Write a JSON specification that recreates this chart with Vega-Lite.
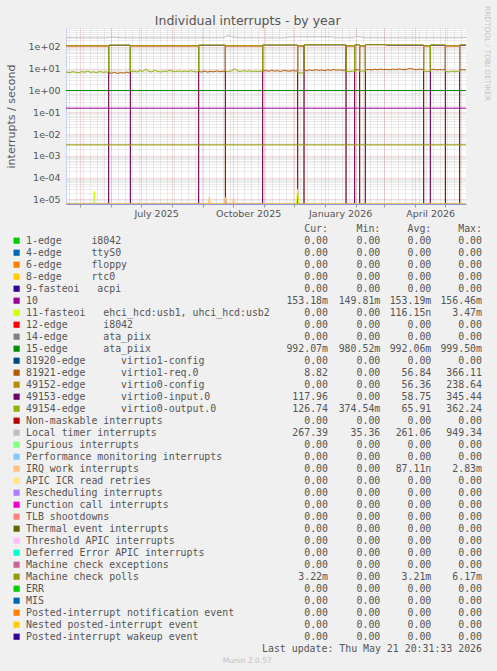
{
"$schema":"https://vega.github.io/schema/vega-lite/v6.json",
"background":"#f0f0f0",
"padding":{"left":5,"right":6,"top":5,"bottom":6},
"title":{"text":"Individual interrupts - by year","anchor":"middle","frame":"bounds","font":"DejaVu Sans","fontSize":12.5,"fontWeight":"normal","color":"#555555","offset":-22},
"config":{"view":{"stroke":null},"font":"DejaVu Sans"},
"bounds":"flush",
"spacing":24.7,
"resolve":{"scale":{"x":"independent","y":"independent","color":"independent"}},
"datasets":{
"series":[
{"s":"10","t":"2025-04-16T20:00","v":0.153},{"s":"10","t":"2026-05-21T21:00","v":0.153},
{"s":"15-edge","t":"2025-04-16T20:00","v":0.992},{"s":"15-edge","t":"2026-05-21T21:00","v":0.992},
{"s":"81921-edge","t":"2025-04-16T20:00","v":108},{"s":"81921-edge","t":"2025-05-29T11:00","v":108},
{"s":"81921-edge","t":"2025-05-29T14:00","v":6.5},{"s":"81921-edge","t":"2025-06-01T12:00","v":6.1},{"s":"81921-edge","t":"2025-06-04T12:00","v":6.8},{"s":"81921-edge","t":"2025-06-07T12:00","v":6.0},{"s":"81921-edge","t":"2025-06-10T12:00","v":6.6},{"s":"81921-edge","t":"2025-06-13T12:00","v":6.2},{"s":"81921-edge","t":"2025-06-16T12:00","v":6.9},{"s":"81921-edge","t":"2025-06-19T12:00","v":6.3},{"s":"81921-edge","t":"2025-06-20T04:00","v":6.5},
{"s":"81921-edge","t":"2025-06-20T07:00","v":108},{"s":"81921-edge","t":"2025-08-27T11:00","v":108},
{"s":"81921-edge","t":"2025-08-27T14:00","v":7.4},{"s":"81921-edge","t":"2025-08-30T12:00","v":7.0},{"s":"81921-edge","t":"2025-09-02T12:00","v":7.8},{"s":"81921-edge","t":"2025-09-05T12:00","v":6.9},{"s":"81921-edge","t":"2025-09-08T12:00","v":7.5},{"s":"81921-edge","t":"2025-09-11T12:00","v":7.1},{"s":"81921-edge","t":"2025-09-14T12:00","v":7.9},{"s":"81921-edge","t":"2025-09-17T12:00","v":7.2},{"s":"81921-edge","t":"2025-09-20T12:00","v":7.6},{"s":"81921-edge","t":"2025-09-23T04:00","v":7.3},
{"s":"81921-edge","t":"2025-09-23T07:00","v":108},{"s":"81921-edge","t":"2025-10-30T11:00","v":108},
{"s":"81921-edge","t":"2025-10-30T14:00","v":7.8},{"s":"81921-edge","t":"2025-11-02T12:00","v":8.2},{"s":"81921-edge","t":"2025-11-05T12:00","v":7.5},{"s":"81921-edge","t":"2025-11-08T12:00","v":8.4},{"s":"81921-edge","t":"2025-11-11T12:00","v":7.7},{"s":"81921-edge","t":"2025-11-14T12:00","v":8.0},{"s":"81921-edge","t":"2025-11-17T12:00","v":7.4},{"s":"81921-edge","t":"2025-11-20T12:00","v":8.3},{"s":"81921-edge","t":"2025-11-23T12:00","v":7.9},{"s":"81921-edge","t":"2025-11-26T12:00","v":7.6},{"s":"81921-edge","t":"2025-11-29T12:00","v":8.2},{"s":"81921-edge","t":"2025-12-02T12:00","v":7.8},{"s":"81921-edge","t":"2025-12-04T11:00","v":8.0},
{"s":"81921-edge","t":"2025-12-04T14:00","v":108},{"s":"81921-edge","t":"2025-12-10T20:00","v":108},
{"s":"81921-edge","t":"2025-12-10T23:00","v":8.4},{"s":"81921-edge","t":"2025-12-13T12:00","v":8.0},{"s":"81921-edge","t":"2025-12-16T12:00","v":8.8},{"s":"81921-edge","t":"2025-12-19T12:00","v":8.2},{"s":"81921-edge","t":"2025-12-22T12:00","v":9.0},{"s":"81921-edge","t":"2025-12-25T12:00","v":8.3},{"s":"81921-edge","t":"2025-12-28T12:00","v":8.7},{"s":"81921-edge","t":"2025-12-31T12:00","v":8.1},{"s":"81921-edge","t":"2026-01-03T12:00","v":8.9},{"s":"81921-edge","t":"2026-01-06T12:00","v":8.4},{"s":"81921-edge","t":"2026-01-09T12:00","v":9.1},{"s":"81921-edge","t":"2026-01-12T12:00","v":8.5},{"s":"81921-edge","t":"2026-01-15T12:00","v":8.8},{"s":"81921-edge","t":"2026-01-18T12:00","v":8.3},{"s":"81921-edge","t":"2026-01-21T20:00","v":8.6},
{"s":"81921-edge","t":"2026-01-21T23:00","v":108},{"s":"81921-edge","t":"2026-01-30T11:00","v":108},
{"s":"81921-edge","t":"2026-01-30T14:00","v":8.5},{"s":"81921-edge","t":"2026-02-02T12:00","v":8.9},{"s":"81921-edge","t":"2026-02-04T11:00","v":8.6},
{"s":"81921-edge","t":"2026-02-04T14:00","v":108},{"s":"81921-edge","t":"2026-02-10T04:00","v":108},
{"s":"81921-edge","t":"2026-02-10T07:00","v":8.7},{"s":"81921-edge","t":"2026-02-13T12:00","v":9.2},{"s":"81921-edge","t":"2026-02-16T12:00","v":8.6},{"s":"81921-edge","t":"2026-02-19T12:00","v":9.4},{"s":"81921-edge","t":"2026-02-22T12:00","v":8.9},{"s":"81921-edge","t":"2026-02-25T12:00","v":9.6},{"s":"81921-edge","t":"2026-02-28T12:00","v":9.0},{"s":"81921-edge","t":"2026-03-03T12:00","v":9.3},{"s":"81921-edge","t":"2026-03-06T12:00","v":8.8},{"s":"81921-edge","t":"2026-03-09T12:00","v":9.5},{"s":"81921-edge","t":"2026-03-12T12:00","v":9.1},{"s":"81921-edge","t":"2026-03-15T12:00","v":9.8},{"s":"81921-edge","t":"2026-03-18T12:00","v":9.2},{"s":"81921-edge","t":"2026-03-21T12:00","v":9.0},{"s":"81921-edge","t":"2026-03-24T12:00","v":9.6},{"s":"81921-edge","t":"2026-03-27T12:00","v":10.2},{"s":"81921-edge","t":"2026-03-30T12:00","v":9.3},{"s":"81921-edge","t":"2026-04-02T12:00","v":9.0},{"s":"81921-edge","t":"2026-04-05T12:00","v":9.5},{"s":"81921-edge","t":"2026-04-09T11:00","v":9.2},
{"s":"81921-edge","t":"2026-04-09T14:00","v":108},{"s":"81921-edge","t":"2026-04-16T04:00","v":108},
{"s":"81921-edge","t":"2026-04-16T07:00","v":8.9},{"s":"81921-edge","t":"2026-04-19T12:00","v":9.4},{"s":"81921-edge","t":"2026-04-22T12:00","v":8.7},{"s":"81921-edge","t":"2026-04-25T12:00","v":9.2},{"s":"81921-edge","t":"2026-04-28T12:00","v":8.8},{"s":"81921-edge","t":"2026-05-01T04:00","v":9.1},
{"s":"81921-edge","t":"2026-05-01T07:00","v":108},{"s":"81921-edge","t":"2026-05-15T11:00","v":108},
{"s":"81921-edge","t":"2026-05-15T14:00","v":8.6},{"s":"81921-edge","t":"2026-05-18T12:00","v":9.0},{"s":"81921-edge","t":"2026-05-21T21:00","v":8.82},
{"s":"49152-edge","t":"2025-04-16T20:00","v":114},{"s":"49152-edge","t":"2025-05-29T11:00","v":114},
{"s":"49152-edge","t":"2025-05-29T14:00","v":0},{"s":"49152-edge","t":"2025-06-20T04:00","v":0},
{"s":"49152-edge","t":"2025-06-20T07:00","v":115},{"s":"49152-edge","t":"2025-08-27T11:00","v":115},
{"s":"49152-edge","t":"2025-08-27T14:00","v":0},{"s":"49152-edge","t":"2025-09-23T04:00","v":0},
{"s":"49152-edge","t":"2025-09-23T07:00","v":114},{"s":"49152-edge","t":"2025-10-30T11:00","v":114},
{"s":"49152-edge","t":"2025-10-30T14:00","v":0},{"s":"49152-edge","t":"2025-12-04T11:00","v":0},
{"s":"49152-edge","t":"2025-12-04T14:00","v":114},{"s":"49152-edge","t":"2025-12-10T20:00","v":114},
{"s":"49152-edge","t":"2025-12-10T23:00","v":0},{"s":"49152-edge","t":"2026-01-21T20:00","v":0},
{"s":"49152-edge","t":"2026-01-21T23:00","v":114},{"s":"49152-edge","t":"2026-01-30T11:00","v":114},
{"s":"49152-edge","t":"2026-01-30T14:00","v":0},{"s":"49152-edge","t":"2026-02-04T11:00","v":0},
{"s":"49152-edge","t":"2026-02-04T14:00","v":114},{"s":"49152-edge","t":"2026-02-10T04:00","v":114},
{"s":"49152-edge","t":"2026-02-10T07:00","v":0},{"s":"49152-edge","t":"2026-04-09T11:00","v":0},
{"s":"49152-edge","t":"2026-04-09T14:00","v":114},{"s":"49152-edge","t":"2026-04-16T04:00","v":114},
{"s":"49152-edge","t":"2026-04-16T07:00","v":0},{"s":"49152-edge","t":"2026-05-01T04:00","v":0},
{"s":"49152-edge","t":"2026-05-01T07:00","v":114},{"s":"49152-edge","t":"2026-05-15T11:00","v":114},
{"s":"49152-edge","t":"2026-05-15T14:00","v":0},{"s":"49152-edge","t":"2026-05-21T21:00","v":0},
{"s":"49153-edge","t":"2025-04-16T20:00","v":0},{"s":"49153-edge","t":"2025-05-29T11:00","v":0},
{"s":"49153-edge","t":"2025-05-29T14:00","v":118},{"s":"49153-edge","t":"2025-06-20T04:00","v":118},
{"s":"49153-edge","t":"2025-06-20T07:00","v":0},{"s":"49153-edge","t":"2025-08-27T11:00","v":0},
{"s":"49153-edge","t":"2025-08-27T14:00","v":118},{"s":"49153-edge","t":"2025-09-23T04:00","v":118},
{"s":"49153-edge","t":"2025-09-23T07:00","v":0},{"s":"49153-edge","t":"2025-10-30T11:00","v":0},
{"s":"49153-edge","t":"2025-10-30T14:00","v":120},{"s":"49153-edge","t":"2025-12-04T11:00","v":120},
{"s":"49153-edge","t":"2025-12-04T14:00","v":0},{"s":"49153-edge","t":"2025-12-10T20:00","v":0},
{"s":"49153-edge","t":"2025-12-10T23:00","v":122},{"s":"49153-edge","t":"2026-01-21T20:00","v":122},
{"s":"49153-edge","t":"2026-01-21T23:00","v":0},{"s":"49153-edge","t":"2026-01-30T11:00","v":0},
{"s":"49153-edge","t":"2026-01-30T14:00","v":122},{"s":"49153-edge","t":"2026-02-04T11:00","v":122},
{"s":"49153-edge","t":"2026-02-04T14:00","v":0},{"s":"49153-edge","t":"2026-02-10T04:00","v":0},
{"s":"49153-edge","t":"2026-02-10T07:00","v":126},{"s":"49153-edge","t":"2026-03-01T12:00","v":126},{"s":"49153-edge","t":"2026-03-03T12:00","v":118},{"s":"49153-edge","t":"2026-04-09T11:00","v":118},
{"s":"49153-edge","t":"2026-04-09T14:00","v":0},{"s":"49153-edge","t":"2026-04-16T04:00","v":0},
{"s":"49153-edge","t":"2026-04-16T07:00","v":118},{"s":"49153-edge","t":"2026-05-01T04:00","v":118},
{"s":"49153-edge","t":"2026-05-01T07:00","v":0},{"s":"49153-edge","t":"2026-05-15T11:00","v":0},
{"s":"49153-edge","t":"2026-05-15T14:00","v":118},{"s":"49153-edge","t":"2026-05-21T21:00","v":117.96},
{"s":"49154-edge","t":"2025-04-16T20:00","v":7.0},{"s":"49154-edge","t":"2025-04-20T12:00","v":6.6},{"s":"49154-edge","t":"2025-04-23T12:00","v":7.2},{"s":"49154-edge","t":"2025-04-26T12:00","v":6.8},{"s":"49154-edge","t":"2025-04-29T12:00","v":6.4},{"s":"49154-edge","t":"2025-05-02T12:00","v":7.3},{"s":"49154-edge","t":"2025-05-05T12:00","v":6.9},{"s":"49154-edge","t":"2025-05-08T12:00","v":7.6},{"s":"49154-edge","t":"2025-05-11T12:00","v":6.7},{"s":"49154-edge","t":"2025-05-14T12:00","v":7.1},{"s":"49154-edge","t":"2025-05-17T12:00","v":6.5},{"s":"49154-edge","t":"2025-05-20T12:00","v":7.4},{"s":"49154-edge","t":"2025-05-23T12:00","v":6.8},{"s":"49154-edge","t":"2025-05-26T12:00","v":7.0},{"s":"49154-edge","t":"2025-05-29T11:00","v":6.9},
{"s":"49154-edge","t":"2025-05-29T14:00","v":122},{"s":"49154-edge","t":"2025-06-20T04:00","v":122},
{"s":"49154-edge","t":"2025-06-20T07:00","v":7.2},{"s":"49154-edge","t":"2025-06-23T12:00","v":7.8},{"s":"49154-edge","t":"2025-06-26T12:00","v":7.0},{"s":"49154-edge","t":"2025-06-29T12:00","v":8.1},{"s":"49154-edge","t":"2025-07-02T12:00","v":7.4},{"s":"49154-edge","t":"2025-07-05T12:00","v":9.5},{"s":"49154-edge","t":"2025-07-08T12:00","v":7.6},{"s":"49154-edge","t":"2025-07-11T12:00","v":7.1},{"s":"49154-edge","t":"2025-07-14T12:00","v":8.3},{"s":"49154-edge","t":"2025-07-17T12:00","v":7.5},{"s":"49154-edge","t":"2025-07-20T12:00","v":7.0},{"s":"49154-edge","t":"2025-07-23T12:00","v":7.9},{"s":"49154-edge","t":"2025-07-26T12:00","v":7.3},{"s":"49154-edge","t":"2025-07-29T12:00","v":8.4},{"s":"49154-edge","t":"2025-08-01T12:00","v":7.6},{"s":"49154-edge","t":"2025-08-04T12:00","v":7.2},{"s":"49154-edge","t":"2025-08-07T12:00","v":7.9},{"s":"49154-edge","t":"2025-08-10T12:00","v":7.1},{"s":"49154-edge","t":"2025-08-13T12:00","v":7.7},{"s":"49154-edge","t":"2025-08-16T12:00","v":7.3},{"s":"49154-edge","t":"2025-08-19T12:00","v":8.0},{"s":"49154-edge","t":"2025-08-22T12:00","v":7.4},{"s":"49154-edge","t":"2025-08-25T12:00","v":7.0},{"s":"49154-edge","t":"2025-08-27T11:00","v":7.5},
{"s":"49154-edge","t":"2025-08-27T14:00","v":122},{"s":"49154-edge","t":"2025-09-23T04:00","v":122},
{"s":"49154-edge","t":"2025-09-23T07:00","v":7.6},{"s":"49154-edge","t":"2025-09-26T12:00","v":7.2},{"s":"49154-edge","t":"2025-09-29T12:00","v":8.0},{"s":"49154-edge","t":"2025-10-02T12:00","v":10.0},{"s":"49154-edge","t":"2025-10-05T12:00","v":7.8},{"s":"49154-edge","t":"2025-10-08T12:00","v":7.3},{"s":"49154-edge","t":"2025-10-11T12:00","v":8.1},{"s":"49154-edge","t":"2025-10-14T12:00","v":7.5},{"s":"49154-edge","t":"2025-10-17T12:00","v":7.9},{"s":"49154-edge","t":"2025-10-20T12:00","v":7.2},{"s":"49154-edge","t":"2025-10-23T12:00","v":7.7},{"s":"49154-edge","t":"2025-10-26T12:00","v":7.4},{"s":"49154-edge","t":"2025-10-30T11:00","v":7.8},
{"s":"49154-edge","t":"2025-10-30T14:00","v":122},{"s":"49154-edge","t":"2025-12-04T11:00","v":122},
{"s":"49154-edge","t":"2025-12-04T14:00","v":6.6},{"s":"49154-edge","t":"2025-12-07T12:00","v":6.2},{"s":"49154-edge","t":"2025-12-10T20:00","v":6.5},
{"s":"49154-edge","t":"2025-12-10T23:00","v":124},{"s":"49154-edge","t":"2026-01-21T20:00","v":124},
{"s":"49154-edge","t":"2026-01-21T23:00","v":7.6},{"s":"49154-edge","t":"2026-01-25T12:00","v":7.2},{"s":"49154-edge","t":"2026-01-28T12:00","v":7.8},{"s":"49154-edge","t":"2026-01-30T11:00","v":7.4},
{"s":"49154-edge","t":"2026-01-30T14:00","v":124},{"s":"49154-edge","t":"2026-02-04T11:00","v":124},
{"s":"49154-edge","t":"2026-02-04T14:00","v":7.4},{"s":"49154-edge","t":"2026-02-07T12:00","v":7.9},{"s":"49154-edge","t":"2026-02-10T04:00","v":7.5},
{"s":"49154-edge","t":"2026-02-10T07:00","v":124},{"s":"49154-edge","t":"2026-04-09T11:00","v":124},
{"s":"49154-edge","t":"2026-04-09T14:00","v":7.8},{"s":"49154-edge","t":"2026-04-12T12:00","v":7.3},{"s":"49154-edge","t":"2026-04-16T04:00","v":7.6},
{"s":"49154-edge","t":"2026-04-16T07:00","v":125},{"s":"49154-edge","t":"2026-05-01T04:00","v":125},
{"s":"49154-edge","t":"2026-05-01T07:00","v":7.5},{"s":"49154-edge","t":"2026-05-04T12:00","v":7.0},{"s":"49154-edge","t":"2026-05-07T12:00","v":7.8},{"s":"49154-edge","t":"2026-05-10T12:00","v":7.2},{"s":"49154-edge","t":"2026-05-13T12:00","v":7.6},{"s":"49154-edge","t":"2026-05-15T11:00","v":7.3},
{"s":"49154-edge","t":"2026-05-15T14:00","v":126},{"s":"49154-edge","t":"2026-05-21T21:00","v":126.74},
{"s":"Local timer interrupts","t":"2025-04-16T20:00","v":255},{"s":"Local timer interrupts","t":"2025-04-26T12:00","v":257},{"s":"Local timer interrupts","t":"2025-05-06T12:00","v":254},{"s":"Local timer interrupts","t":"2025-05-16T12:00","v":256},{"s":"Local timer interrupts","t":"2025-05-26T12:00","v":255},{"s":"Local timer interrupts","t":"2025-05-30T12:00","v":268},{"s":"Local timer interrupts","t":"2025-06-02T12:00","v":280},{"s":"Local timer interrupts","t":"2025-06-05T12:00","v":266},{"s":"Local timer interrupts","t":"2025-06-12T12:00","v":258},{"s":"Local timer interrupts","t":"2025-06-22T12:00","v":255},{"s":"Local timer interrupts","t":"2025-07-02T12:00","v":257},{"s":"Local timer interrupts","t":"2025-07-12T12:00","v":255},{"s":"Local timer interrupts","t":"2025-07-22T12:00","v":256},{"s":"Local timer interrupts","t":"2025-08-01T12:00","v":254},{"s":"Local timer interrupts","t":"2025-08-11T12:00","v":257},{"s":"Local timer interrupts","t":"2025-08-21T12:00","v":255},{"s":"Local timer interrupts","t":"2025-08-31T12:00","v":258},{"s":"Local timer interrupts","t":"2025-09-10T12:00","v":256},{"s":"Local timer interrupts","t":"2025-09-20T12:00","v":257},{"s":"Local timer interrupts","t":"2025-09-24T12:00","v":300},{"s":"Local timer interrupts","t":"2025-09-26T12:00","v":345},{"s":"Local timer interrupts","t":"2025-09-28T12:00","v":300},{"s":"Local timer interrupts","t":"2025-10-02T12:00","v":262},{"s":"Local timer interrupts","t":"2025-10-12T12:00","v":256},{"s":"Local timer interrupts","t":"2025-10-22T12:00","v":258},{"s":"Local timer interrupts","t":"2025-11-01T12:00","v":255},{"s":"Local timer interrupts","t":"2025-11-11T12:00","v":256},{"s":"Local timer interrupts","t":"2025-11-21T12:00","v":255},{"s":"Local timer interrupts","t":"2025-11-26T12:00","v":282},{"s":"Local timer interrupts","t":"2025-12-06T12:00","v":285},{"s":"Local timer interrupts","t":"2025-12-16T12:00","v":281},{"s":"Local timer interrupts","t":"2025-12-26T12:00","v":284},{"s":"Local timer interrupts","t":"2026-01-08T12:00","v":282},{"s":"Local timer interrupts","t":"2026-01-10T12:00","v":258},{"s":"Local timer interrupts","t":"2026-01-20T12:00","v":257},{"s":"Local timer interrupts","t":"2026-01-29T12:00","v":262},{"s":"Local timer interrupts","t":"2026-01-31T12:00","v":296},{"s":"Local timer interrupts","t":"2026-02-05T12:00","v":294},{"s":"Local timer interrupts","t":"2026-02-07T12:00","v":260},{"s":"Local timer interrupts","t":"2026-02-17T12:00","v":257},{"s":"Local timer interrupts","t":"2026-03-05T12:00","v":256},{"s":"Local timer interrupts","t":"2026-03-15T12:00","v":257},{"s":"Local timer interrupts","t":"2026-03-25T12:00","v":255},{"s":"Local timer interrupts","t":"2026-04-04T12:00","v":257},{"s":"Local timer interrupts","t":"2026-04-14T12:00","v":256},{"s":"Local timer interrupts","t":"2026-04-24T12:00","v":258},{"s":"Local timer interrupts","t":"2026-05-04T12:00","v":256},{"s":"Local timer interrupts","t":"2026-05-14T12:00","v":257},{"s":"Local timer interrupts","t":"2026-05-21T21:00","v":267},
{"s":"11-fasteoi","t":"2025-04-16T20:00","v":0},{"s":"11-fasteoi","t":"2025-05-14T04:00","v":0},{"s":"11-fasteoi","t":"2025-05-15T04:00","v":2.4e-5},{"s":"11-fasteoi","t":"2025-05-16T04:00","v":0},{"s":"11-fasteoi","t":"2025-12-03T11:00","v":0},{"s":"11-fasteoi","t":"2025-12-04T11:00","v":3e-5},{"s":"11-fasteoi","t":"2025-12-05T11:00","v":0},{"s":"11-fasteoi","t":"2026-05-21T21:00","v":0},
{"s":"IRQ work interrupts","t":"2025-04-16T20:00","v":0},{"s":"IRQ work interrupts","t":"2025-09-06T04:00","v":0},{"s":"IRQ work interrupts","t":"2025-09-07T04:00","v":1.3e-5},{"s":"IRQ work interrupts","t":"2025-09-08T04:00","v":0},{"s":"IRQ work interrupts","t":"2025-09-22T20:00","v":0},{"s":"IRQ work interrupts","t":"2025-09-23T20:00","v":1.3e-5},{"s":"IRQ work interrupts","t":"2025-09-24T20:00","v":0},{"s":"IRQ work interrupts","t":"2025-09-30T11:00","v":0},{"s":"IRQ work interrupts","t":"2025-10-01T11:00","v":1.3e-5},{"s":"IRQ work interrupts","t":"2025-10-02T11:00","v":0},{"s":"IRQ work interrupts","t":"2026-05-21T21:00","v":0},
{"s":"Machine check polls","t":"2025-04-16T20:00","v":0.0032},{"s":"Machine check polls","t":"2026-05-21T21:00","v":0.0032}
],
"legend":[
{"k":"h","name":"hdr","label":"","c":"Cur:\u00a0\u00a0","mi":"Min:\u00a0\u00a0","a":"Avg:\u00a0\u00a0","mx":"Max:\u00a0\u00a0"},
{"k":"s","name":"1-edge","label":"1-edge\u00a0\u00a0\u00a0\u00a0\u00a0i8042","c":"0.00\u00a0","mi":"0.00\u00a0","a":"0.00\u00a0","mx":"0.00\u00a0"},
{"k":"s","name":"4-edge","label":"4-edge\u00a0\u00a0\u00a0\u00a0\u00a0ttyS0","c":"0.00\u00a0","mi":"0.00\u00a0","a":"0.00\u00a0","mx":"0.00\u00a0"},
{"k":"s","name":"6-edge","label":"6-edge\u00a0\u00a0\u00a0\u00a0\u00a0floppy","c":"0.00\u00a0","mi":"0.00\u00a0","a":"0.00\u00a0","mx":"0.00\u00a0"},
{"k":"s","name":"8-edge","label":"8-edge\u00a0\u00a0\u00a0\u00a0\u00a0rtc0","c":"0.00\u00a0","mi":"0.00\u00a0","a":"0.00\u00a0","mx":"0.00\u00a0"},
{"k":"s","name":"9-fasteoi","label":"9-fasteoi\u00a0\u00a0\u00a0acpi","c":"0.00\u00a0","mi":"0.00\u00a0","a":"0.00\u00a0","mx":"0.00\u00a0"},
{"k":"s","name":"10","label":"10","c":"153.18m","mi":"149.81m","a":"153.19m","mx":"156.46m"},
{"k":"s","name":"11-fasteoi","label":"11-fasteoi\u00a0\u00a0\u00a0ehci_hcd:usb1,\u00a0uhci_hcd:usb2","c":"0.00\u00a0","mi":"0.00\u00a0","a":"116.15n","mx":"3.47m"},
{"k":"s","name":"12-edge","label":"12-edge\u00a0\u00a0\u00a0\u00a0\u00a0\u00a0i8042","c":"0.00\u00a0","mi":"0.00\u00a0","a":"0.00\u00a0","mx":"0.00\u00a0"},
{"k":"s","name":"14-edge","label":"14-edge\u00a0\u00a0\u00a0\u00a0\u00a0\u00a0ata_piix","c":"0.00\u00a0","mi":"0.00\u00a0","a":"0.00\u00a0","mx":"0.00\u00a0"},
{"k":"s","name":"15-edge","label":"15-edge\u00a0\u00a0\u00a0\u00a0\u00a0\u00a0ata_piix","c":"992.07m","mi":"980.52m","a":"992.06m","mx":"999.50m"},
{"k":"s","name":"81920-edge","label":"81920-edge\u00a0\u00a0\u00a0\u00a0\u00a0\u00a0virtio1-config","c":"0.00\u00a0","mi":"0.00\u00a0","a":"0.00\u00a0","mx":"0.00\u00a0"},
{"k":"s","name":"81921-edge","label":"81921-edge\u00a0\u00a0\u00a0\u00a0\u00a0\u00a0virtio1-req.0","c":"8.82\u00a0","mi":"0.00\u00a0","a":"56.84\u00a0","mx":"366.11\u00a0"},
{"k":"s","name":"49152-edge","label":"49152-edge\u00a0\u00a0\u00a0\u00a0\u00a0\u00a0virtio0-config","c":"0.00\u00a0","mi":"0.00\u00a0","a":"56.36\u00a0","mx":"238.64\u00a0"},
{"k":"s","name":"49153-edge","label":"49153-edge\u00a0\u00a0\u00a0\u00a0\u00a0\u00a0virtio0-input.0","c":"117.96\u00a0","mi":"0.00\u00a0","a":"58.75\u00a0","mx":"345.44\u00a0"},
{"k":"s","name":"49154-edge","label":"49154-edge\u00a0\u00a0\u00a0\u00a0\u00a0\u00a0virtio0-output.0","c":"126.74\u00a0","mi":"374.54m","a":"65.91\u00a0","mx":"362.24\u00a0"},
{"k":"s","name":"Non-maskable interrupts","label":"Non-maskable interrupts","c":"0.00\u00a0","mi":"0.00\u00a0","a":"0.00\u00a0","mx":"0.00\u00a0"},
{"k":"s","name":"Local timer interrupts","label":"Local timer interrupts","c":"267.39\u00a0","mi":"35.36\u00a0","a":"261.06\u00a0","mx":"949.34\u00a0"},
{"k":"s","name":"Spurious interrupts","label":"Spurious interrupts","c":"0.00\u00a0","mi":"0.00\u00a0","a":"0.00\u00a0","mx":"0.00\u00a0"},
{"k":"s","name":"Performance monitoring interrupts","label":"Performance monitoring interrupts","c":"0.00\u00a0","mi":"0.00\u00a0","a":"0.00\u00a0","mx":"0.00\u00a0"},
{"k":"s","name":"IRQ work interrupts","label":"IRQ work interrupts","c":"0.00\u00a0","mi":"0.00\u00a0","a":"87.11n","mx":"2.83m"},
{"k":"s","name":"APIC ICR read retries","label":"APIC ICR read retries","c":"0.00\u00a0","mi":"0.00\u00a0","a":"0.00\u00a0","mx":"0.00\u00a0"},
{"k":"s","name":"Rescheduling interrupts","label":"Rescheduling interrupts","c":"0.00\u00a0","mi":"0.00\u00a0","a":"0.00\u00a0","mx":"0.00\u00a0"},
{"k":"s","name":"Function call interrupts","label":"Function call interrupts","c":"0.00\u00a0","mi":"0.00\u00a0","a":"0.00\u00a0","mx":"0.00\u00a0"},
{"k":"s","name":"TLB shootdowns","label":"TLB shootdowns","c":"0.00\u00a0","mi":"0.00\u00a0","a":"0.00\u00a0","mx":"0.00\u00a0"},
{"k":"s","name":"Thermal event interrupts","label":"Thermal event interrupts","c":"0.00\u00a0","mi":"0.00\u00a0","a":"0.00\u00a0","mx":"0.00\u00a0"},
{"k":"s","name":"Threshold APIC interrupts","label":"Threshold APIC interrupts","c":"0.00\u00a0","mi":"0.00\u00a0","a":"0.00\u00a0","mx":"0.00\u00a0"},
{"k":"s","name":"Deferred Error APIC interrupts","label":"Deferred Error APIC interrupts","c":"0.00\u00a0","mi":"0.00\u00a0","a":"0.00\u00a0","mx":"0.00\u00a0"},
{"k":"s","name":"Machine check exceptions","label":"Machine check exceptions","c":"0.00\u00a0","mi":"0.00\u00a0","a":"0.00\u00a0","mx":"0.00\u00a0"},
{"k":"s","name":"Machine check polls","label":"Machine check polls","c":"3.22m","mi":"0.00\u00a0","a":"3.21m","mx":"6.17m"},
{"k":"s","name":"ERR","label":"ERR","c":"0.00\u00a0","mi":"0.00\u00a0","a":"0.00\u00a0","mx":"0.00\u00a0"},
{"k":"s","name":"MIS","label":"MIS","c":"0.00\u00a0","mi":"0.00\u00a0","a":"0.00\u00a0","mx":"0.00\u00a0"},
{"k":"s","name":"Posted-interrupt notification event","label":"Posted-interrupt notification event","c":"0.00\u00a0","mi":"0.00\u00a0","a":"0.00\u00a0","mx":"0.00\u00a0"},
{"k":"s","name":"Nested posted-interrupt event","label":"Nested posted-interrupt event","c":"0.00\u00a0","mi":"0.00\u00a0","a":"0.00\u00a0","mx":"0.00\u00a0"},
{"k":"s","name":"Posted-interrupt wakeup event","label":"Posted-interrupt wakeup event","c":"0.00\u00a0","mi":"0.00\u00a0","a":"0.00\u00a0","mx":"0.00\u00a0"},
{"k":"u","name":"upd","label":"Last update: Thu May 21 20:31:33 2026"},
{"k":"m","name":"munin","label":"Munin 2.0.57"}
]
},
"vconcat":[
{
"width":400,"height":176,
"view":{"fill":"#ffffff","stroke":null},
"data":{"name":"series"},
"resolve":{"axis":{"x":"independent","y":"independent"}},
"layer":[
{"transform":[{"filter":{"field":"s","oneOf":["10","15-edge"]}}],
"mark":{"type":"line","strokeWidth":1,"clip":true},
"encoding":{
"x":{"field":"t","type":"temporal","scale":{"domain":[{"year":2025,"month":4,"date":16,"hours":20,"minutes":31,"seconds":33},{"year":2026,"month":5,"date":21,"hours":20,"minutes":31,"seconds":33}]},
"axis":{"orient":"bottom","tickCount":{"interval":"week","step":1},"grid":true,"gridColor":"#8f8f8f","gridOpacity":0.35,"gridDash":[1,1],"domain":false,"ticks":false,"labels":false,"title":null}},
"y":{"field":"v","type":"quantitative","scale":{"type":"log","domain":[6.15e-6,731],"clamp":true,"nice":false},
"axis":{"orient":"left","values":[7e-6,8e-6,9e-6,2e-5,3e-5,4e-5,5e-5,6e-5,7e-5,8e-5,9e-5,2e-4,3e-4,4e-4,5e-4,6e-4,7e-4,8e-4,9e-4,0.002,0.003,0.004,0.005,0.006,0.007,0.008,0.009,0.02,0.03,0.04,0.05,0.06,0.07,0.08,0.09,0.2,0.3,0.4,0.5,0.6,0.7,0.8,0.9,2,3,4,5,6,7,8,9,20,30,40,50,60,70,80,90,200,300,400,500,600,700],"grid":true,"gridColor":"#8f8f8f","gridOpacity":0.35,"gridDash":[1,1],"domain":false,"ticks":false,"labels":false,"title":null}},
"color":{"field":"s","type":"nominal","legend":null,"scale":{"domain":["1-edge","4-edge","6-edge","8-edge","9-fasteoi","10","11-fasteoi","12-edge","14-edge","15-edge","81920-edge","81921-edge","49152-edge","49153-edge","49154-edge","Non-maskable interrupts","Local timer interrupts","Spurious interrupts","Performance monitoring interrupts","IRQ work interrupts","APIC ICR read retries","Rescheduling interrupts","Function call interrupts","TLB shootdowns","Thermal event interrupts","Threshold APIC interrupts","Deferred Error APIC interrupts","Machine check exceptions","Machine check polls","ERR","MIS","Posted-interrupt notification event","Nested posted-interrupt event","Posted-interrupt wakeup event"],"range":["#00CC00","#0066B3","#FF8000","#FFCC00","#330099","#990099","#CCFF00","#FF0000","#808080","#008F00","#00487D","#B35A00","#B38F00","#6B006B","#8FB300","#B30000","#BEBEBE","#80FF80","#80C9FF","#FFC080","#FFE680","#AA80FF","#EE00CC","#FF8080","#666600","#FFBFFF","#00FFCC","#CC6699","#999900","#00CC00","#0066B3","#FF8000","#FFCC00","#330099"]}}
}},
{"transform":[{"filter":{"field":"s","oneOf":["81921-edge","49152-edge","49153-edge","49154-edge","Local timer interrupts"]}}],
"mark":{"type":"line","strokeWidth":1,"clip":true},
"encoding":{
"x":{"field":"t","type":"temporal","scale":{"domain":[{"year":2025,"month":4,"date":16,"hours":20,"minutes":31,"seconds":33},{"year":2026,"month":5,"date":21,"hours":20,"minutes":31,"seconds":33}]},
"axis":{"orient":"bottom","values":[{"year":2025,"month":5,"date":1},{"year":2025,"month":6,"date":1},{"year":2025,"month":7,"date":1},{"year":2025,"month":8,"date":1},{"year":2025,"month":9,"date":1},{"year":2025,"month":10,"date":1},{"year":2025,"month":11,"date":1},{"year":2025,"month":12,"date":1},{"year":2026,"month":1,"date":1},{"year":2026,"month":2,"date":1},{"year":2026,"month":3,"date":1},{"year":2026,"month":4,"date":1},{"year":2026,"month":5,"date":1}],
"grid":true,"gridColor":"#de4f4f","gridOpacity":0.45,"gridDash":[1,1],"domain":false,"ticks":true,"tickSize":3,"tickColor":"#9a9a9a","labelExpr":"month(datum.value) % 3 == 0 ? timeFormat(datum.value, '%B %Y') : ''","labelOffset":15,"labelFlush":false,"labelOverlap":false,"labelBound":false,"labelPadding":1,"labelFont":"DejaVu Sans","labelFontSize":9.5,"labelColor":"#555555","title":null}},
"y":{"field":"v","type":"quantitative","scale":{"type":"log","domain":[6.15e-6,731],"clamp":true,"nice":false},
"axis":{"orient":"left","values":[1e-5,1e-4,0.001,0.01,0.1,1,10,100],"grid":true,"gridColor":"#de4f4f","gridOpacity":0.45,"gridDash":[1,1],"domain":true,"domainColor":"#c8d0f4","ticks":false,"labelExpr":"'1e' + (datum.value >= 1 ? '+' : '-') + '0' + abs(round(log(datum.value) / LN10))","labelFlush":false,"labelOverlap":false,"labelPadding":6,"labelFont":"DejaVu Sans","labelFontSize":9.5,"labelColor":"#555555","title":"interrupts / second","titleFont":"DejaVu Sans","titleFontSize":11,"titleFontWeight":"normal","titleColor":"#555555","titlePadding":12}},
"color":{"field":"s","type":"nominal","legend":null,"scale":{"domain":["1-edge","4-edge","6-edge","8-edge","9-fasteoi","10","11-fasteoi","12-edge","14-edge","15-edge","81920-edge","81921-edge","49152-edge","49153-edge","49154-edge","Non-maskable interrupts","Local timer interrupts","Spurious interrupts","Performance monitoring interrupts","IRQ work interrupts","APIC ICR read retries","Rescheduling interrupts","Function call interrupts","TLB shootdowns","Thermal event interrupts","Threshold APIC interrupts","Deferred Error APIC interrupts","Machine check exceptions","Machine check polls","ERR","MIS","Posted-interrupt notification event","Nested posted-interrupt event","Posted-interrupt wakeup event"],"range":["#00CC00","#0066B3","#FF8000","#FFCC00","#330099","#990099","#CCFF00","#FF0000","#808080","#008F00","#00487D","#B35A00","#B38F00","#6B006B","#8FB300","#B30000","#BEBEBE","#80FF80","#80C9FF","#FFC080","#FFE680","#AA80FF","#EE00CC","#FF8080","#666600","#FFBFFF","#00FFCC","#CC6699","#999900","#00CC00","#0066B3","#FF8000","#FFCC00","#330099"]}}
}},
{"transform":[{"filter":{"field":"s","oneOf":["11-fasteoi","IRQ work interrupts","Machine check polls"]}}],
"mark":{"type":"line","strokeWidth":1,"clip":true},
"encoding":{
"x":{"field":"t","type":"temporal","scale":{"domain":[{"year":2025,"month":4,"date":16,"hours":20,"minutes":31,"seconds":33},{"year":2026,"month":5,"date":21,"hours":20,"minutes":31,"seconds":33}]},
"axis":{"orient":"bottom","grid":false,"domain":true,"domainColor":"#8f8fe0","domainWidth":1.2,"ticks":false,"labels":false,"title":null,"zindex":1}},
"y":{"field":"v","type":"quantitative","scale":{"type":"log","domain":[6.15e-6,731],"clamp":true,"nice":false},
"axis":{"orient":"right","grid":false,"domain":false,"ticks":false,"labels":false,"title":"RRDTOOL / TOBI OETIKER","titleFont":"DejaVu Sans","titleFontSize":7.4,"titleFontWeight":"normal","titleColor":"#c4c4c4","titleAngle":90,"titleAlign":"left","titleBaseline":"middle","titleX":20.3,"titleY":-22.5}},
"color":{"field":"s","type":"nominal","legend":null,"scale":{"domain":["1-edge","4-edge","6-edge","8-edge","9-fasteoi","10","11-fasteoi","12-edge","14-edge","15-edge","81920-edge","81921-edge","49152-edge","49153-edge","49154-edge","Non-maskable interrupts","Local timer interrupts","Spurious interrupts","Performance monitoring interrupts","IRQ work interrupts","APIC ICR read retries","Rescheduling interrupts","Function call interrupts","TLB shootdowns","Thermal event interrupts","Threshold APIC interrupts","Deferred Error APIC interrupts","Machine check exceptions","Machine check polls","ERR","MIS","Posted-interrupt notification event","Nested posted-interrupt event","Posted-interrupt wakeup event"],"range":["#00CC00","#0066B3","#FF8000","#FFCC00","#330099","#990099","#CCFF00","#FF0000","#808080","#008F00","#00487D","#B35A00","#B38F00","#6B006B","#8FB300","#B30000","#BEBEBE","#80FF80","#80C9FF","#FFC080","#FFE680","#AA80FF","#EE00CC","#FF8080","#666600","#FFBFFF","#00FFCC","#CC6699","#999900","#00CC00","#0066B3","#FF8000","#FFCC00","#330099"]}}
}}
]
},
{
"width":400,"height":432,
"view":{"stroke":null},
"data":{"name":"legend"},
"encoding":{"y":{"field":"name","type":"nominal","sort":null,"scale":{"type":"point","padding":0,"domain":["hdr","1-edge","4-edge","6-edge","8-edge","9-fasteoi","10","11-fasteoi","12-edge","14-edge","15-edge","81920-edge","81921-edge","49152-edge","49153-edge","49154-edge","Non-maskable interrupts","Local timer interrupts","Spurious interrupts","Performance monitoring interrupts","IRQ work interrupts","APIC ICR read retries","Rescheduling interrupts","Function call interrupts","TLB shootdowns","Thermal event interrupts","Threshold APIC interrupts","Deferred Error APIC interrupts","Machine check exceptions","Machine check polls","ERR","MIS","Posted-interrupt notification event","Nested posted-interrupt event","Posted-interrupt wakeup event","upd","munin"]},"axis":null}},
"layer":[
{"transform":[{"filter":"datum.k == 's'"}],
"mark":{"type":"point","shape":"square","filled":true,"size":38,"opacity":1,"strokeWidth":0},
"encoding":{"x":{"datum":-49.4,"type":"quantitative","scale":{"domain":[0,400],"nice":false,"zero":false},"axis":null},
"color":{"field":"name","type":"nominal","legend":null,"scale":{"domain":["1-edge","4-edge","6-edge","8-edge","9-fasteoi","10","11-fasteoi","12-edge","14-edge","15-edge","81920-edge","81921-edge","49152-edge","49153-edge","49154-edge","Non-maskable interrupts","Local timer interrupts","Spurious interrupts","Performance monitoring interrupts","IRQ work interrupts","APIC ICR read retries","Rescheduling interrupts","Function call interrupts","TLB shootdowns","Thermal event interrupts","Threshold APIC interrupts","Deferred Error APIC interrupts","Machine check exceptions","Machine check polls","ERR","MIS","Posted-interrupt notification event","Nested posted-interrupt event","Posted-interrupt wakeup event"],"range":["#00CC00","#0066B3","#FF8000","#FFCC00","#330099","#990099","#CCFF00","#FF0000","#808080","#008F00","#00487D","#B35A00","#B38F00","#6B006B","#8FB300","#B30000","#BEBEBE","#80FF80","#80C9FF","#FFC080","#FFE680","#AA80FF","#EE00CC","#FF8080","#666600","#FFBFFF","#00FFCC","#CC6699","#999900","#00CC00","#0066B3","#FF8000","#FFCC00","#330099"]}}}},
{"transform":[{"filter":"datum.k == 's'"}],
"mark":{"type":"text","align":"left","baseline":"middle","font":"DejaVu Sans Mono","fontSize":9.9,"color":"#555555"},
"encoding":{"x":{"datum":-40,"type":"quantitative","scale":{"domain":[0,400],"nice":false,"zero":false},"axis":null},"text":{"field":"label"}}},
{"transform":[{"filter":"datum.k == 's' || datum.k == 'h'"}],
"mark":{"type":"text","align":"right","baseline":"middle","font":"DejaVu Sans Mono","fontSize":9.9,"color":"#555555"},
"encoding":{"x":{"datum":262,"type":"quantitative","scale":{"domain":[0,400],"nice":false,"zero":false},"axis":null},"text":{"field":"c"}}},
{"transform":[{"filter":"datum.k == 's' || datum.k == 'h'"}],
"mark":{"type":"text","align":"right","baseline":"middle","font":"DejaVu Sans Mono","fontSize":9.9,"color":"#555555"},
"encoding":{"x":{"datum":314.3,"type":"quantitative","scale":{"domain":[0,400],"nice":false,"zero":false},"axis":null},"text":{"field":"mi"}}},
{"transform":[{"filter":"datum.k == 's' || datum.k == 'h'"}],
"mark":{"type":"text","align":"right","baseline":"middle","font":"DejaVu Sans Mono","fontSize":9.9,"color":"#555555"},
"encoding":{"x":{"datum":365.3,"type":"quantitative","scale":{"domain":[0,400],"nice":false,"zero":false},"axis":null},"text":{"field":"a"}}},
{"transform":[{"filter":"datum.k == 's' || datum.k == 'h'"}],
"mark":{"type":"text","align":"right","baseline":"middle","font":"DejaVu Sans Mono","fontSize":9.9,"color":"#555555"},
"encoding":{"x":{"datum":416,"type":"quantitative","scale":{"domain":[0,400],"nice":false,"zero":false},"axis":null},"text":{"field":"mx"}}},
{"transform":[{"filter":"datum.k == 'u'"}],
"mark":{"type":"text","align":"right","baseline":"middle","font":"DejaVu Sans Mono","fontSize":9.9,"color":"#555555"},
"encoding":{"x":{"datum":416,"type":"quantitative","scale":{"domain":[0,400],"nice":false,"zero":false},"axis":null},"text":{"field":"label"}}},
{"transform":[{"filter":"datum.k == 'm'"}],
"mark":{"type":"text","align":"center","baseline":"middle","font":"DejaVu Sans","fontSize":7.5,"color":"#c0c0c0"},
"encoding":{"x":{"datum":181.3,"type":"quantitative","scale":{"domain":[0,400],"nice":false,"zero":false},"axis":null},"text":{"field":"label"}}}
]
}
]
}
